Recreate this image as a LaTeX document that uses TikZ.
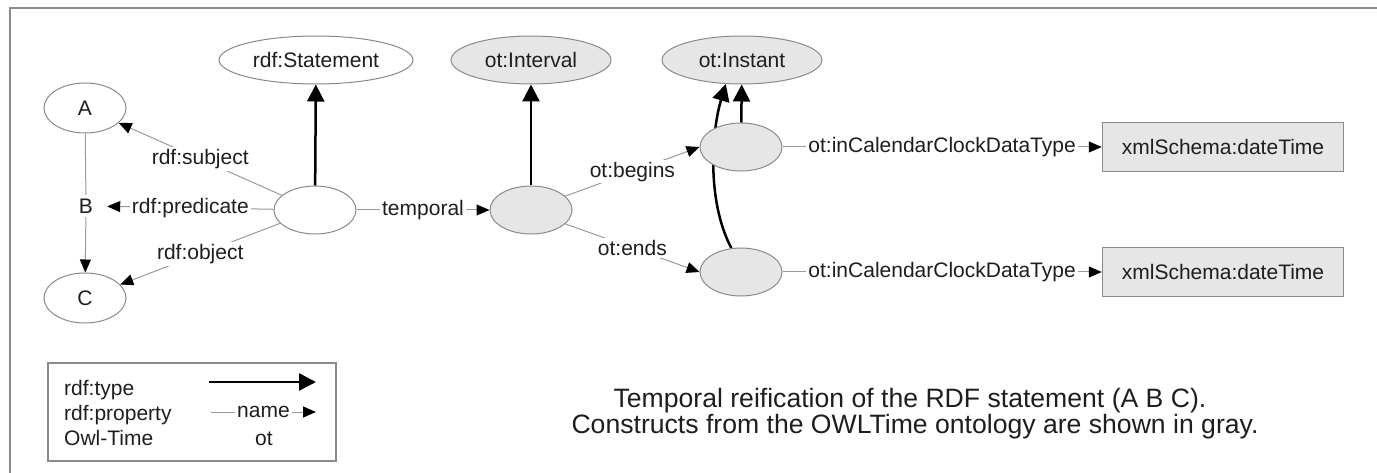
\documentclass[tikz,border=0pt]{standalone}
\usepackage{fontspec}
\setmainfont{Liberation Sans}
\usetikzlibrary{shapes.geometric,arrows.meta,backgrounds}
\definecolor{edgegray}{HTML}{8A8A8A}
\definecolor{linegray}{HTML}{9A9A9A}
\definecolor{framegray}{HTML}{8C8C8C}
\definecolor{owlfill}{HTML}{E6E6E6}
\definecolor{ink}{HTML}{1E1E1E}

\begin{document}
\begin{tikzpicture}[x=1pt,y=-1pt,
  font=\fontsize{21}{25}\selectfont,
  every node/.style={text=ink},
  res/.style={ellipse, draw=edgegray, line width=1pt, fill=white, inner sep=0pt,
              minimum width=#1, minimum height=48pt},
  res/.default=82pt,
  owl/.style={res=#1, fill=owlfill},
  owl/.default=82pt,
  literal/.style={rectangle, draw=edgegray, line width=1.5pt, fill=owlfill,
                  minimum width=241pt, minimum height=49pt, inner sep=0pt},
  prop/.style={draw=linegray, line width=1pt,
               -{Triangle[length=13pt,width=11pt,color=black]}},
  plainprop/.style={draw=linegray, line width=1pt},
  ptype/.style={draw=black, line width=2.5pt,
                -{Triangle[length=17pt,width=17pt,color=black]}},
  lbl/.style={fill=white, inner sep=2pt},
  legendtext/.style={anchor=base west, inner sep=0pt},
  captext/.style={anchor=base, inner sep=0pt, font=\fontsize{26.6}{30}\selectfont},
]
\useasboundingbox (0,0) rectangle (1377,473);

% outer frame (open to the right and bottom)
\coordinate (fbl) at (10,480);
\coordinate (ftl) at (10,8);
\coordinate (ftr) at (1385,8);
\draw[framegray, line width=2pt] (fbl) -- (ftl) -- (ftr);

% the RDF statement (A B C)
\node[res, minimum height=50pt] (a) at (85,108) {A};
\node[res, minimum height=50pt] (c) at (85,298) {C};
\node[inner sep=0pt, minimum width=42pt, minimum height=22pt] (b) at (86,206) {B};

% reification node and its types
\node[res=194pt] (stmt) at (316,60) {rdf:Statement};
\node[res] (st) at (315,210) {};

% OWL-Time constructs
\node[owl] (iv) at (531,210) {};
\node[owl=160pt] (ivt) at (531,60) {ot:Interval};
\node[owl=160pt] (inst) at (742,60) {ot:Instant};
\node[owl] (beg) at (741,147) {};
\node[owl] (end) at (741,272) {};
\node[literal] (dt1) at (1223,147) {xmlSchema:dateTime};
\node[literal] (dt2) at (1223,272) {xmlSchema:dateTime};

% rdf:type links
\draw[ptype] (st) -- (stmt);
\draw[ptype] (iv) -- (ivt);
\draw[ptype] (beg) -- (inst);
\begin{pgfonlayer}{background}
  \draw[ptype] (end.112) .. controls (706,200) and (712,130) .. (inst.236);
\end{pgfonlayer}

% properties
\draw[plainprop] (a) -- (b);
\draw[prop] (b) -- (c);
\draw[prop] (st) -- node[lbl] {rdf:subject} (a);
\draw[prop] (st) -- node[lbl] {rdf:predicate} (b);
\draw[prop] (st) -- node[lbl] {rdf:object} (c);
\draw[prop] (st) -- node[lbl] {temporal} (iv);
\draw[prop] (iv.22) -- node[lbl] {ot:begins} (beg.west);
\draw[prop] (iv.-22) -- node[lbl] {ot:ends} (end.west);
\draw[prop] (beg) -- node[lbl] {ot:inCalendarClockDataType} (dt1);
\draw[prop] (end) -- node[lbl] {ot:inCalendarClockDataType} (dt2);

% legend
\node[draw=edgegray, line width=1.5pt, minimum width=288pt, minimum height=98pt,
      inner sep=0pt] (legend) at (192,412) {};
\node[legendtext] (lt1) at (64,395) {rdf:type};
\node[legendtext] (lt2) at (64,420) {rdf:property};
\node[legendtext] (lt3) at (64,445) {Owl-Time};
\coordinate (ta) at (209,382);
\coordinate (tb) at (316,382);
\draw[ptype] (ta) -- (tb);
\coordinate (pa) at (211,412);
\coordinate (pb) at (316,412);
\draw[prop] (pa) -- node[lbl] {name} (pb);
\node[anchor=base, inner sep=0pt] (ot) at (264,445) {ot};

% caption
\node[captext] (cap1) at (910,407) {Temporal reification of the RDF statement (A B C).};
\node[captext] (cap2) at (915,433) {Constructs from the OWLTime ontology are shown in gray.};
\end{tikzpicture}
\end{document}
